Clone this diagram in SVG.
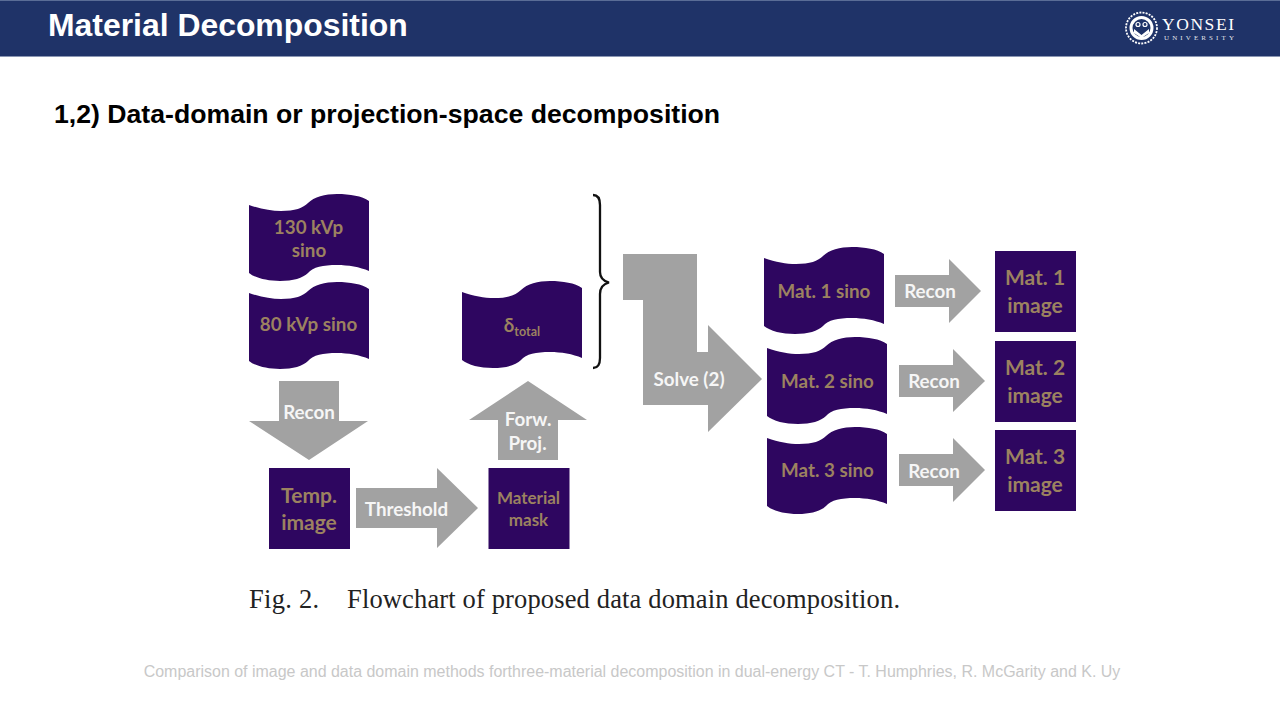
<svg xmlns="http://www.w3.org/2000/svg" width="1280" height="720" viewBox="0 0 1280 720">
<style>
.title{font-family:"Liberation Sans",Arial,sans-serif;font-weight:700;fill:#fff;font-size:31.9px}
.sub{font-family:"Liberation Sans",Arial,sans-serif;font-weight:700;fill:#000;font-size:26.65px}
.box{fill:#2e0660}
.arrow{fill:#a2a2a2}
.lb{font-family:Lato,"Open Sans",sans-serif;font-weight:700;text-anchor:middle}
.n{fill:#9c8260;font-size:18.8px}
.g{fill:#f6f6f6;font-size:18.8px}
.big{font-size:21px}
.mid{font-size:17px}
.cap{font-family:"Liberation Serif","Times New Roman",serif;font-size:26.5px;fill:#222}
.cite{font-family:"Liberation Sans",Arial,sans-serif;font-size:15.97px;fill:#c8c8c8;text-anchor:middle}
.logo{font-family:"Liberation Serif",serif;fill:#fff}
</style>
<defs>
<path id="wave" d="M0,11 C12,15 22,17 32,17 C46,17 54,14 59,9 C65,3 76,0 88,0 C101,0 113,2 120,7 L120,77 C111,73 99,71 88,71 C74,71 64,73 59,79 C54,84 44,87 31,87 C18,87 6,84 0,79 Z"/>
</defs>
<rect width="1280" height="720" fill="#fff"/>
<g id="header">
<rect x="0" y="0" width="1280" height="56" fill="#1f3368"/>
<rect x="0" y="0" width="1280" height="1" fill="#5a6d96"/>
<rect x="0" y="56" width="1280" height="1" fill="#8a96b3"/>
<text class="title" x="48" y="36">Material Decomposition</text>
</g>
<g id="logo">
<circle cx="1141.5" cy="28" r="15.5" fill="none" stroke="#fff" stroke-width="1.8" stroke-dasharray="2 1.2"/>
<circle cx="1141.5" cy="28" r="10.5" fill="none" stroke="#fff" stroke-width="3"/>
<path d="M1134,29 L1141.5,35 L1149,29 L1149,33 L1141.5,38 L1134,33 Z" fill="#fff"/>
<circle cx="1138" cy="24.5" r="2" fill="none" stroke="#fff" stroke-width="1.2"/>
<circle cx="1145" cy="24.5" r="2" fill="none" stroke="#fff" stroke-width="1.2"/>
<text class="logo" x="1162" y="30" font-size="17.5" textLength="72">YONSEI</text>
<text class="logo" x="1164" y="40" font-size="7" textLength="70" fill-opacity="0.9">UNIVERSITY</text>
</g>
<text class="sub" x="54" y="123">1,2) Data-domain or projection-space decomposition</text>
<g id="connectors">
<path class="arrow" d="M279,381 H339 V421 H368 L309,460 L249,421 H279 Z"/>
<path class="arrow" d="M356,488 H437 V468 L478,508 L437,548 V528 H356 Z"/>
<path class="arrow" d="M498,460 V420 H469 L528,381 L587,420 H558 V460 Z"/>
<path class="arrow" d="M623,254 H697 V352 H708 V325 L762,379 L708,432 V405 H643 V300 H623 Z"/>
<path class="arrow" d="M895,275 H949 V259 L981,291 L949,323 V307 H895 Z"/>
<path class="arrow" d="M899,365 H953 V349 L985,381 L953,412 V397 H899 Z"/>
<path class="arrow" d="M899,454 H953 V438 L985,470 L953,502 V486 H899 Z"/>
<path d="M593,195 C598,195 600,199 600,205 L600,272 C600,278 603,281 609,282.5 C603,284 600,288 600,294 L600,358 C600,364 598,368 593,368" fill="none" stroke="#111" stroke-width="2.3"/>
<text class="lb g" x="309" y="419">Recon</text>
<text class="lb g" x="406.5" y="516">Threshold</text>
<text class="lb g" x="528" y="426">Forw.</text>
<text class="lb g" x="527.5" y="450">Proj.</text>
<text class="lb g" x="689" y="386">Solve (2)</text>
<text class="lb g" x="930" y="298">Recon</text>
<text class="lb g" x="934" y="388">Recon</text>
<text class="lb g" x="934" y="478">Recon</text>
</g>
<g id="sino130"><use href="#wave" x="249" y="194" class="box"/><text class="lb n" x="308.5" y="234">130 kVp</text><text class="lb n" x="309" y="257">sino</text></g>
<g id="sino80"><use href="#wave" x="249" y="282" class="box"/><text class="lb n" x="308.5" y="331">80 kVp sino</text></g>
<g id="delta"><use href="#wave" x="462" y="281" class="box"/><text class="lb n" x="522" y="332">δ<tspan font-size="12.5" dy="4">total</tspan></text></g>
<g id="temp"><rect class="box" x="269" y="468" width="81" height="81"/><text class="lb n big" x="309" y="503">Temp.</text><text class="lb n big" x="309" y="530">image</text></g>
<g id="mask"><rect class="box" x="488.5" y="468" width="81" height="81"/><text class="lb n mid" x="528.5" y="504">Material</text><text class="lb n mid" x="528.5" y="526">mask</text></g>
<g id="mat1s"><use href="#wave" x="764" y="247" class="box"/><text class="lb n" x="824" y="298">Mat. 1 sino</text></g>
<g id="mat2s"><use href="#wave" x="767" y="337" class="box"/><text class="lb n" x="827.5" y="388">Mat. 2 sino</text></g>
<g id="mat3s"><use href="#wave" x="767" y="427" class="box"/><text class="lb n" x="827.5" y="477">Mat. 3 sino</text></g>
<g id="mat1i"><rect class="box" x="995" y="251" width="81" height="81"/><text class="lb n big" x="1035" y="285">Mat. 1</text><text class="lb n big" x="1035" y="313">image</text></g>
<g id="mat2i"><rect class="box" x="995" y="341" width="81" height="81"/><text class="lb n big" x="1035" y="375">Mat. 2</text><text class="lb n big" x="1035" y="403">image</text></g>
<g id="mat3i"><rect class="box" x="995" y="430" width="81" height="81"/><text class="lb n big" x="1035" y="464">Mat. 3</text><text class="lb n big" x="1035" y="492">image</text></g>
<text class="cap" x="249" y="608" textLength="70">Fig. 2.</text>
<text class="cap" x="347" y="608" textLength="553">Flowchart of proposed data domain decomposition.</text>
<text class="cite" x="632" y="677">Comparison of image and data domain methods forthree-material decomposition in dual-energy CT - T. Humphries, R. McGarity and K. Uy</text>
</svg>
